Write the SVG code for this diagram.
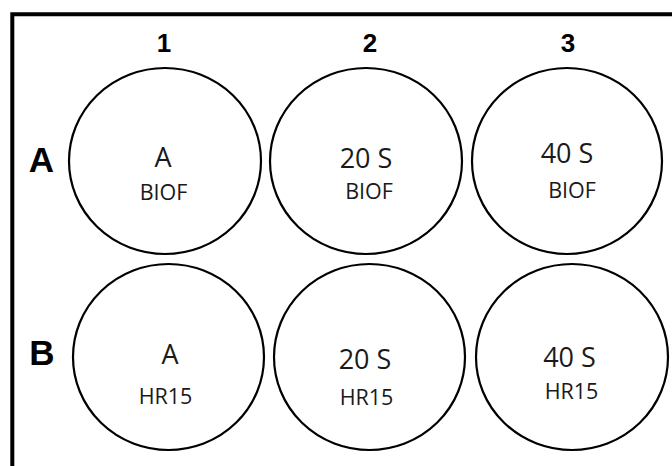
<svg xmlns="http://www.w3.org/2000/svg" width="672" height="466" viewBox="0 0 672 466">
<style>
.well{fill:#fff;stroke:#000;stroke-width:2.2}
.hdr{font-family:"Liberation Sans",Arial,sans-serif;font-weight:bold;font-size:26px;fill:#000;text-anchor:middle}
.row{font-family:"Liberation Sans",Arial,sans-serif;font-weight:bold;font-size:35px;fill:#000;text-anchor:middle}
.t1{font-family:"Open Sans","Liberation Sans",sans-serif;font-size:27px;fill:#1a1a1a;text-anchor:middle}
.t2{font-family:"Open Sans","Liberation Sans",sans-serif;font-size:21.5px;fill:#1a1a1a;text-anchor:middle}
</style>
<rect width="672" height="466" fill="#fff"/>
<path d="M12.3 466 V14.3 H672" fill="none" stroke="#000" stroke-width="4"/>
<g id="headers">
<text class="hdr" x="164" y="51.5">1</text>
<text class="hdr" x="370" y="51.5">2</text>
<text class="hdr" x="568" y="51.5">3</text>
<text class="row" x="41.5" y="172">A</text>
<text class="row" x="42" y="365">B</text>
</g>
<g id="A1"><ellipse class="well" cx="165" cy="161" rx="96" ry="93"/><text class="t1" x="163" y="167">A</text><text class="t2" x="163.5" y="200">BIOF</text></g>
<g id="A2"><ellipse class="well" cx="366" cy="161" rx="96" ry="93"/><text class="t1" x="366" y="168">20 S</text><text class="t2" x="369" y="199">BIOF</text></g>
<g id="A3"><ellipse class="well" cx="567" cy="161" rx="95" ry="93"/><text class="t1" x="567" y="163">40 S</text><text class="t2" x="572" y="198">BIOF</text></g>
<g id="B1"><ellipse class="well" cx="168.5" cy="357" rx="95.5" ry="93"/><text class="t1" x="170" y="364">A</text><text class="t2" x="165.5" y="404">HR15</text></g>
<g id="B2"><ellipse class="well" cx="369.5" cy="357" rx="95.5" ry="93"/><text class="t1" x="365" y="369">20 S</text><text class="t2" x="366.5" y="405">HR15</text></g>
<g id="B3"><ellipse class="well" cx="572" cy="357" rx="96" ry="93"/><text class="t1" x="569.5" y="367">40 S</text><text class="t2" x="571.5" y="399">HR15</text></g>
<g id="connectors"/>
</svg>
